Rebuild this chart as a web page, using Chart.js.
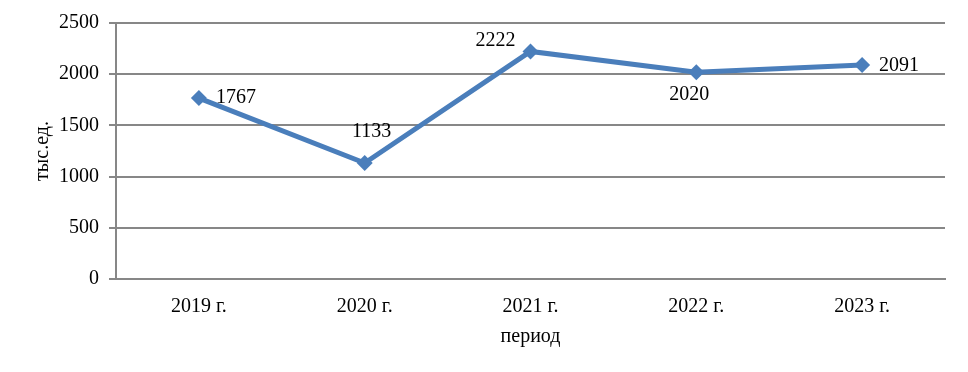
<!DOCTYPE html>
<html>
<head>
<meta charset="utf-8">
<script src="https://cdn.jsdelivr.net/npm/chart.js@4/dist/chart.umd.min.js"></script>
<style>
  html, body { margin: 0; padding: 0; background: #fff; }
  #wrap { width: 968px; height: 372px; }
</style>
</head>
<body>
<div id="wrap"><canvas id="chart" width="968" height="372"></canvas></div>
<script>
'use strict';

// ── Data ─────────────────────────────────────────────────────────────────────
const years  = ['2019 г.', '2020 г.', '2021 г.', '2022 г.', '2023 г.'];
const values = [1767, 1133, 2222, 2020, 2091];
const yTicks = [0, 500, 1000, 1500, 2000, 2500];

const FONT = 'Liberation Serif, "Times New Roman", serif';
const GRID = '#878787';
const BLUE = '#4a7ebb';
const FS = 20;

// label placement around each point (dx, dy, align)
const labelPos = [
  { dx: 17,  dy: 0,   align: 'left' },
  { dx: 7,   dy: -31, align: 'center' },
  { dx: -35, dy: -11, align: 'center' },
  { dx: -7,  dy: 23,  align: 'center' },
  { dx: 17,  dy: 1,   align: 'left' },
];

// ── Value labels plugin ──────────────────────────────────────────────────────
const valueLabels = {
  id: 'valueLabels',
  afterDatasetsDraw(chart) {
    const ctx = chart.ctx;
    const meta = chart.getDatasetMeta(0);
    ctx.save();
    ctx.font = FS + 'px ' + FONT;
    ctx.fillStyle = '#000';
    ctx.textBaseline = 'middle';
    meta.data.forEach((pt, i) => {
      const p = labelPos[i];
      ctx.textAlign = p.align;
      ctx.fillText(String(values[i]), pt.x + p.dx, pt.y + p.dy);
    });
    ctx.restore();
  }
};

// ── Chart ────────────────────────────────────────────────────────────────────
new Chart(document.getElementById('chart').getContext('2d'), {
  type: 'line',
  data: {
    labels: years,
    datasets: [{
      data: values,
      borderColor: BLUE,
      backgroundColor: BLUE,
      borderWidth: 5,
      tension: 0,
      pointStyle: 'rectRot',
      pointRadius: 8,
      pointHoverRadius: 8,
      pointBorderWidth: 0,
      fill: false,
    }],
  },
  options: {
    responsive: false,
    animation: false,
    layout: { padding: { top: 23, right: 23, left: 0, bottom: 0 } },
    plugins: {
      legend: { display: false },
      tooltip: { enabled: false },
    },
    scales: {
      x: {
        offset: true,
        grid: { display: false, drawTicks: false },
        border: { color: GRID, width: 2 },
        ticks: { color: '#000', font: { family: FONT, size: FS }, padding: 16 },
        title: { display: true, text: 'период', color: '#000',
                 font: { family: FONT, size: FS }, padding: { top: 4, bottom: 23 } },
        afterFit(scale) { scale.height = 372 - 279; },
      },
      y: {
        min: 0,
        max: 2500,
        afterBuildTicks(scale) { scale.ticks = yTicks.map(v => ({ value: v })); },
        grid: { color: GRID, lineWidth: 2, tickLength: 7 },
        border: { color: GRID, width: 2 },
        ticks: { color: '#000', font: { family: FONT, size: FS }, padding: 10,
                 callback: v => String(v) },
        title: { display: true, text: 'тыс.ед.', color: '#000',
                 font: { family: FONT, size: FS }, padding: { top: 31, bottom: 0 } },
        afterFit(scale) { scale.width = 116; },
      },
    },
  },
  plugins: [valueLabels],
});
</script>
</body>
</html>
